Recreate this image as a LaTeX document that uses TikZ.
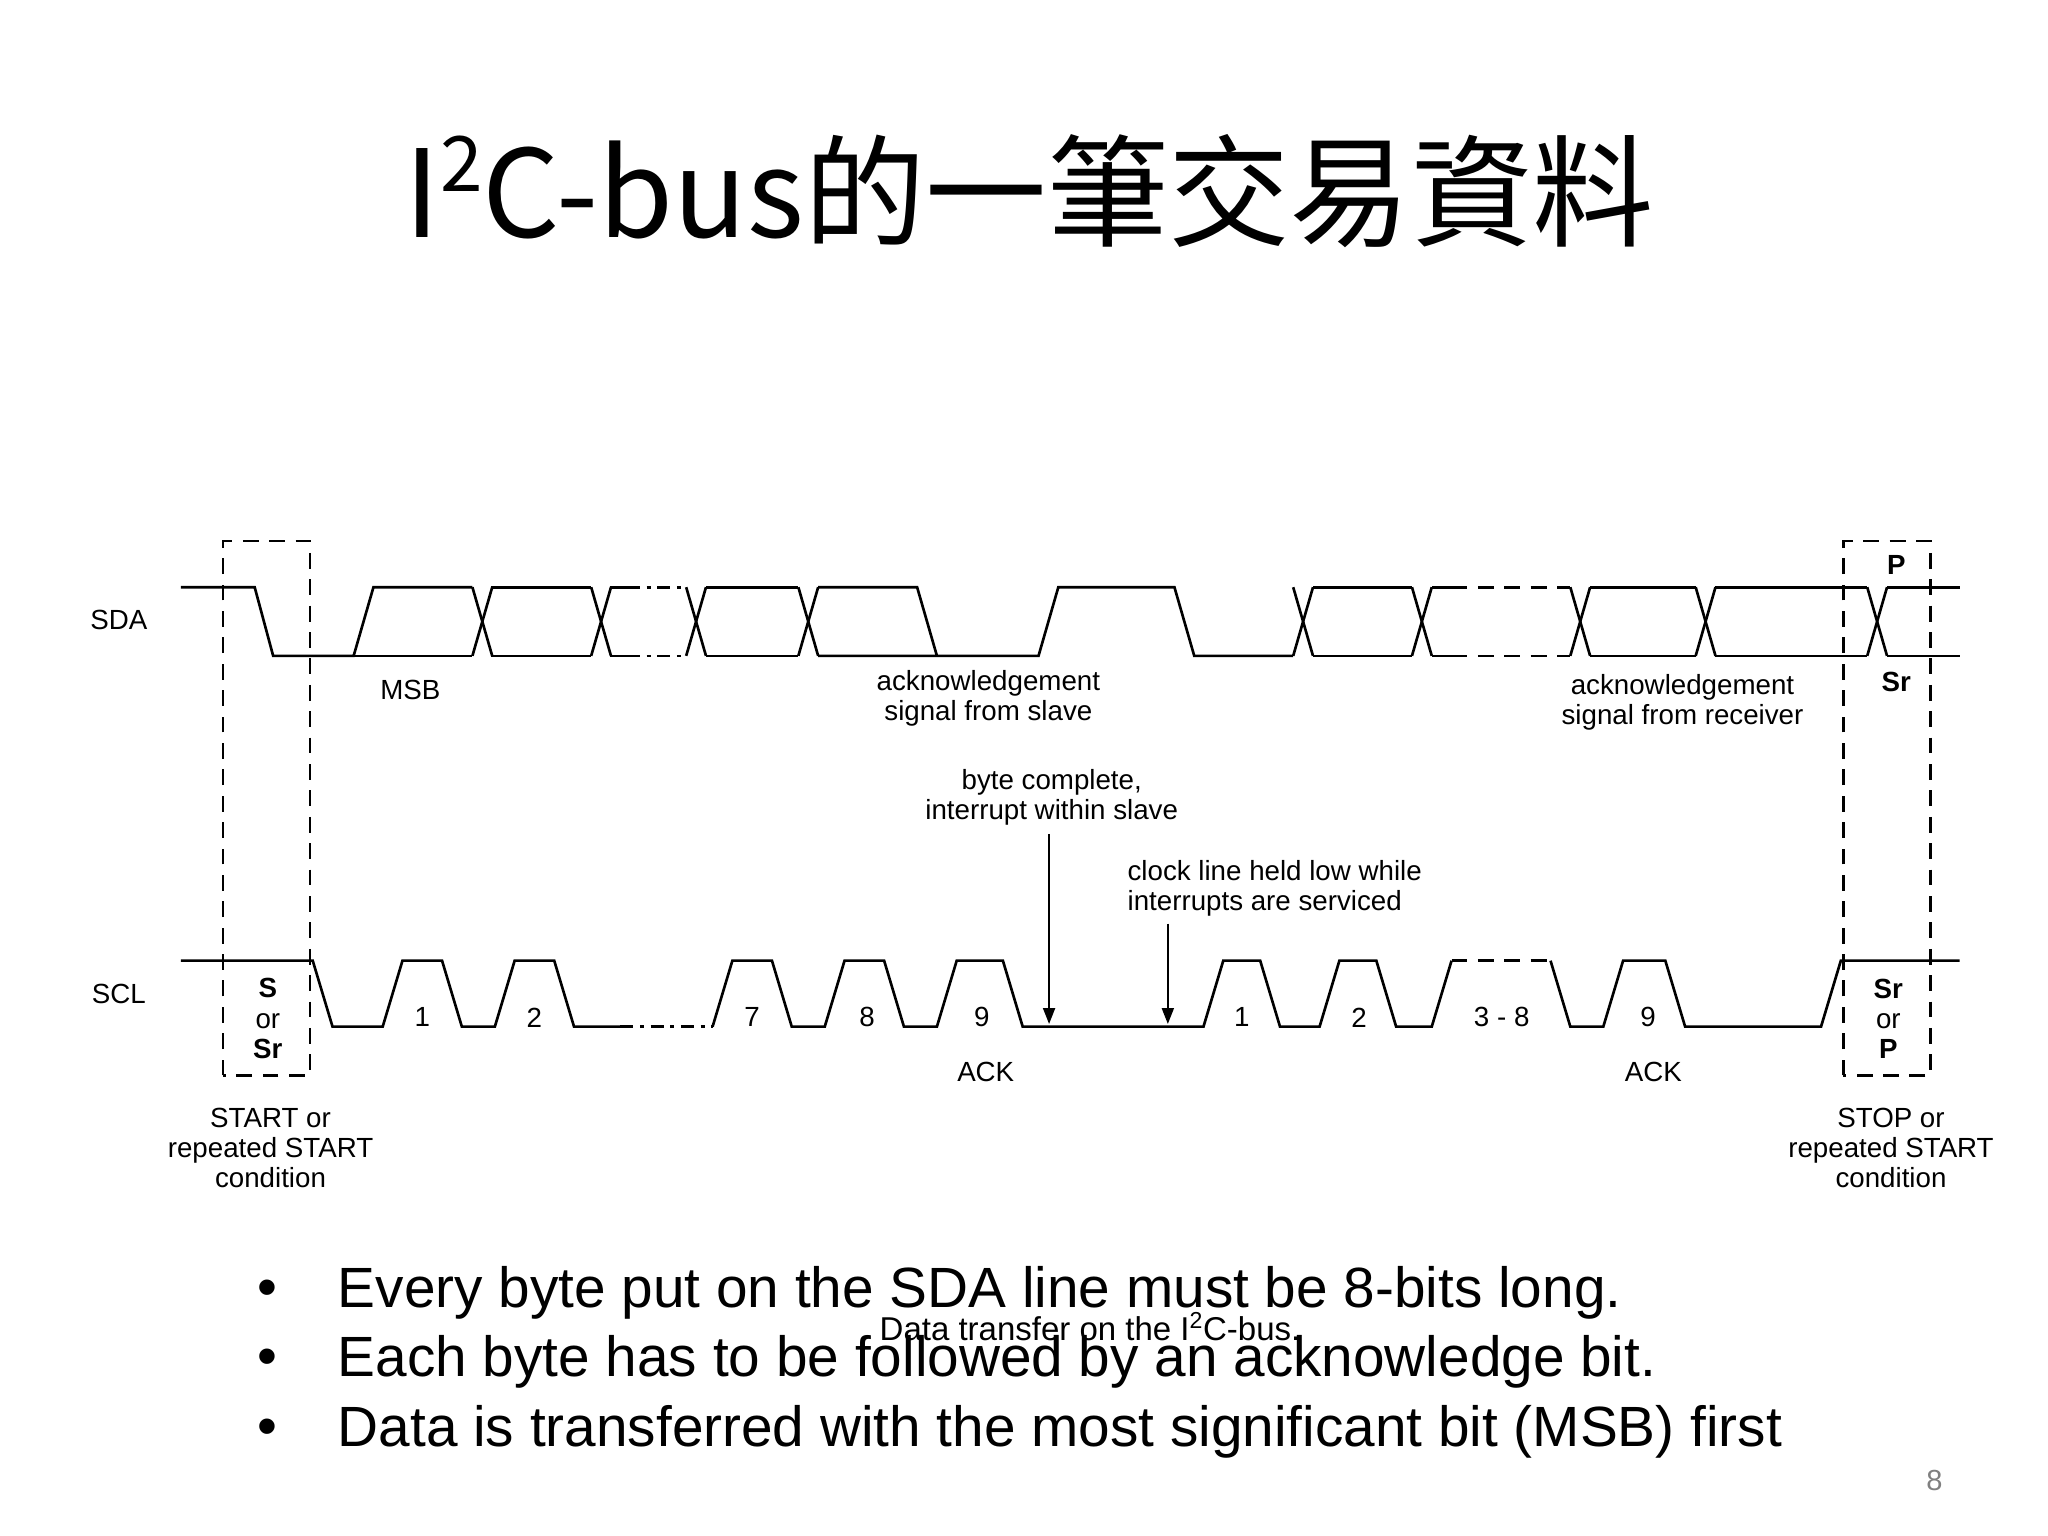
\documentclass[tikz,border=0pt]{standalone}
\usepackage{fontspec}
\setmainfont{Liberation Sans}
\newfontfamily\cjk{Noto Sans CJK TC}
\usetikzlibrary{arrows.meta}
\begin{document}
\begin{tikzpicture}[x=1pt,y=-1pt,line width=2pt,
  lbl/.style={font=\fontsize{21}{23}\selectfont,align=center,inner sep=0pt},
  blbl/.style={font=\bfseries\fontsize{21}{23}\selectfont,align=center,inner sep=0pt},
  dbox/.style={dashed,dash pattern=on 12pt off 8pt},
  dd/.style={dash pattern=on 10pt off 5pt on 3pt off 5pt},
  bul/.style={font=\fontsize{43}{45}\selectfont,anchor=west,inner sep=0pt}]
\fill[white] (0,0) rectangle (1552,1164);
\useasboundingbox (0,0) rectangle (1552,1164);
\node[font=\cjk\fontsize{92}{96}\selectfont] (title) at (780,145) {I\raisebox{0.38em}{\fontsize{58}{60}\selectfont 2}C-bus的一筆交易資料};
% SDA
\def\T{445}\def\B{497}
\draw (137,\T)--(193,\T)--(207,\B)--(268,\B)--(283,\T)--(358,\T);
\draw (207,\B)--(358,\B);
\foreach \a in {358,448,520,605,980,1070,1190,1285,1415}{
  \draw (\a,\T)--(\a+15,\B); \draw (\a,\B)--(\a+15,\T);}
\draw (372,\T)--(448,\T) (372,\B)--(448,\B);
\draw (462,\T)--(475,\T) (462,\B)--(475,\B);
\draw[dd] (475,\T)--(520,\T) (475,\B)--(520,\B);
\draw (535,\T)--(605,\T) (535,\B)--(605,\B);
\draw (620,\T)--(695,\T)--(710,\B);
\draw (620,\B)--(787,\B)--(802,\T)--(890,\T)--(905,\B)--(980,\B);
\draw (995,\T)--(1070,\T) (995,\B)--(1070,\B);
\draw (1085,\T)--(1100,\T) (1085,\B)--(1100,\B);
\draw[dbox] (1100,\T)--(1190,\T) (1100,\B)--(1190,\B);
\draw (1205,\T)--(1285,\T) (1205,\B)--(1285,\B);
\draw (1300,\T)--(1415,\T) (1300,\B)--(1415,\B);
\draw (1430,\T)--(1485,\T) (1430,\B)--(1485,\B);
% SCL
\def\H{728}\def\L{778}
\draw (137,\H)--(237,\H)--(252,\L)--(290,\L)--(305,\H)--(335,\H)--(350,\L)--(375,\L)--(390,\H)--(420,\H)--(435,\L)--(470,\L);
\draw[dd] (470,\L)--(540,\L);
\draw (540,\L)--(555,\H)--(585,\H)--(600,\L)--(625,\L)--(640,\H)--(670,\H)--(685,\L)--(710,\L)--(725,\H)--(760,\H)--(775,\L)--(912,\L)--(927,\H)--(955,\H)--(970,\L)--(1000,\L)--(1015,\H)--(1043,\H)--(1058,\L)--(1085,\L)--(1100,\H);
\draw[dbox] (1100,\H)--(1175,\H);
\draw (1175,\H)--(1190,\L)--(1215,\L)--(1230,\H)--(1262,\H)--(1277,\L)--(1380,\L)--(1395,\H)--(1485,\H);
% dashed boxes
\draw[dbox] (169,815)--(169,410)--(235,410)--(235,815)--cycle;
\draw[dbox] (1397,815)--(1397,410)--(1463,410)--(1463,815)--cycle;
% labels
\node[lbl] (sda) at (90,470) {SDA};
\node[lbl] (scl) at (90,753) {SCL};
\node[lbl] (msb) at (311,523) {MSB};
\node[lbl] (ack1) at (749,529) {acknowledgement\\signal from slave};
\node[lbl] (ack2) at (1275,532) {acknowledgement\\signal from receiver};
\node[lbl] (bc) at (797,604) {byte complete,\\interrupt within slave};
\node[lbl,align=left] (cl) at (966,673) {clock line held low while\\interrupts are serviced};
\coordinate (a1t) at (795,632); \coordinate (a1b) at (795,776);
\coordinate (a2t) at (885,700); \coordinate (a2b) at (885,776);
\draw[line width=1.5pt,-{Triangle[length=12pt,width=9pt]}] (a1t)--(a1b);
\draw[line width=1.5pt,-{Triangle[length=12pt,width=9pt]}] (a2t)--(a2b);
\foreach \x/\t in {320/1,405/2,570/7,657/8,744/9,941/1,1030/2,1138/3 - 8,1249/9}
  \node[lbl] at (\x,771) {\t};
\node[lbl] (ackA) at (747,812) {ACK};
\node[lbl] (ackB) at (1253,812) {ACK};
\node[blbl] (p) at (1437,428) {P};
\node[blbl] (sr) at (1437,517) {Sr};
\node[lbl] (ssr) at (203,772) {\textbf{S}\\or\\\textbf{Sr}};
\node[lbl] (srp) at (1431,772) {\textbf{Sr}\\or\\\textbf{P}};
\node[lbl] (start) at (205,870) {START or\\repeated START\\condition};
\node[lbl] (stop) at (1433,870) {STOP or\\repeated START\\condition};
\node[lbl,font=\fontsize{25}{27}\selectfont] (cap) at (826,1005) {Data transfer on the I\textsuperscript{2}C-bus.};
\foreach \y/\t in {980/Every byte put on the SDA line must be 8-bits long.,1032/Each byte has to be followed by an acknowledge bit.,1085/Data is transferred with the most significant bit (MSB) first}{
  \node[bul] at (194,\y) {•};
  \node[bul] at (255,\y) {\t};}
\node[font=\fontsize{22}{24}\selectfont,text=gray] (pg) at (1466,1122) {8};
\end{tikzpicture}
\end{document}
